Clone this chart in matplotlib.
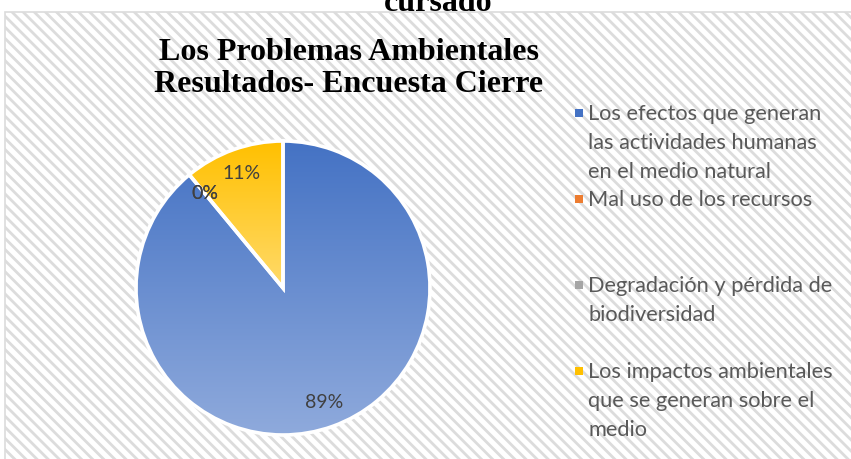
import matplotlib.pyplot as plt
import numpy as np
from matplotlib.patches import Rectangle
from matplotlib.colors import to_rgba

# Datos de la encuesta
categorias = ['Los efectos que generan\nlas actividades humanas\nen el medio natural',
              'Mal uso de los recursos',
              'Degradación y pérdida de\nbiodiversidad',
              'Los impactos ambientales\nque se generan sobre el\nmedio']
valores = [89, 0, 0, 11]
colores = ['#4472C4', '#ED7D31', '#A5A5A5', '#FFC000']
colores_claros = ['#8FAADC', '#F4B183', '#C9C9C9', '#FFDA6A']

titulo = 'Los Problemas Ambientales\nResultados- Encuesta Cierre'
texto_superior = 'cursado'

W, H = 851, 459
plt.rcParams['hatch.linewidth'] = 2.0
fig = plt.figure(figsize=(W / 100, H / 100), dpi=100)
fig.patch.set_facecolor('white')

# Fondo del área del gráfico con rayas diagonales
fondo = Rectangle((5 / W, -0.05), 1.0, 1 - 12 / H + 0.05, transform=fig.transFigure,
                  facecolor='white', edgecolor='#DCDCDC', hatch='\\\\\\', lw=1.2, zorder=-1)
fig.add_artist(fondo)

# Ejes del pastel: centro (283, 288), radio 147 px
cx, cy, r = 283, 288, 147
lim = 1.03
ax = fig.add_axes([(cx - r * lim) / W, (H - cy - r * lim) / H, 2 * r * lim / W, 2 * r * lim / H])
ax.patch.set_visible(False)

wedges, textos, autotextos = ax.pie(
    valores, startangle=90, counterclock=False, colors=colores,
    autopct=lambda p: '{:.0f}%'.format(p), pctdistance=0.83,
    wedgeprops=dict(edgecolor='white', linewidth=2.6, facecolor='none'),
    textprops=dict(color='#404040', fontsize=14, family='Lato'))

# Relleno degradado de cada sector
for w, c1, c2 in zip(wedges, colores, colores_claros):
    if w.theta2 - w.theta1 < 1e-6:
        continue
    w.set_facecolor('none')
    w.set_zorder(3)
    ext = w.get_path().get_extents()
    t = np.linspace(0, 1, 256)[:, None]
    grad = (1 - t) * np.array(to_rgba(c1)) + t * np.array(to_rgba(c2))
    im = ax.imshow(grad[:, None, :], extent=(ext.x0, ext.x1, ext.y0, ext.y1),
                   origin='upper', aspect='auto', zorder=2, interpolation='bilinear')
    im.set_clip_path(w)

for a in autotextos:
    a.set_zorder(4)

ax.set_xlim(-lim, lim)
ax.set_ylim(-lim, lim)
ax.set_aspect('equal')
ax.axis('off')

# Títulos
fig.text(349 / W, 1 - 68.5 / H, titulo, ha='center', va='center', family='Liberation Serif',
         weight='bold', fontsize=23, linespacing=1.15)
fig.text(438 / W, 1 - 11 / H, texto_superior, ha='center', va='baseline',
         family='Liberation Serif', weight='bold', fontsize=23)

# Leyenda manual
x_marca, x_texto = 575, 588
base0, paso, interlinea = 120, 86, 29
for i, (etiqueta, color) in enumerate(zip(categorias, colores)):
    base = base0 + i * paso
    fig.add_artist(Rectangle((x_marca / W, 1 - (base - 3) / H), 8 / W, 8 / H,
                             transform=fig.transFigure, facecolor=color, edgecolor='none'))
    for k, linea in enumerate(etiqueta.split('\n')):
        fig.text(x_texto / W, 1 - (base + k * interlinea) / H, linea, ha='left', va='baseline',
                 family='Lato', fontsize=15.7, color='#595959')

fig.savefig('out.png', dpi=100)
